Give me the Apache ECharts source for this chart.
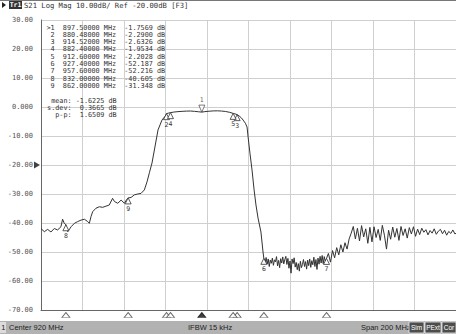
<!DOCTYPE html>
<html>
<head>
    <meta charset="utf-8">
    <title>S21 Log Mag</title>
    <script src="https://cdn.jsdelivr.net/npm/echarts/dist/echarts.min.js"></script>
    <style>
        html, body { margin: 0; padding: 0; background: #fff; }
        #main { width: 456px; height: 334px; }
    </style>
</head>
<body>
    <div id="main"></div>
    <script type="text/javascript">
        // trace (MHz, dB)
        var freqMHz = [
            820, 821.6, 823.2, 824.8, 826.4, 828, 829.6, 830.4, 831.2, 832, 832.9, 834.5, 836.1, 837.7,
            839.3, 840.9, 842.5, 843.3, 844.1, 844.9, 846.5, 848.1, 849.7, 851.3, 852.9, 854.5, 855.4,
            857, 858.6, 860.2, 861.2, 862, 863.4, 865, 866.6, 868.2, 869.8, 871.1, 872.3, 873.5, 874.9,
            876.4, 878.3, 879.8, 880.48, 881.5, 882.4, 884, 886, 888, 890, 892, 894, 896, 897.5, 899,
            901, 903, 905, 907, 909, 911, 912.6, 913.6, 914.52, 915.5, 916.5, 917.4, 918.5, 919.3, 919.8,
            920.7, 921.7, 922.7, 923.6, 924.6, 926, 927, 927.4,
            928, 928.5, 929, 929.5, 930, 930.5, 931, 931.5, 932, 932.5, 933, 933.5, 934, 934.5, 935, 935.5,
            936, 936.5, 937, 937.5, 938, 938.5, 939, 939.5, 940, 940.5, 941, 941.5, 942, 942.5, 943, 943.5,
            944, 944.5, 945, 945.5, 946, 946.5, 947, 947.5, 948, 948.5, 949, 949.5, 950, 950.5, 951, 951.5,
            952, 952.5, 953, 953.5, 954, 954.5, 955, 955.5, 956, 956.5, 957, 957.6,
            958.5, 959.5, 960.5, 961.5, 962.5, 963.5, 964.5, 965.5, 966.5, 967.5, 968.5, 969.5,
            970.5, 971.5, 972.5, 973.5, 974.5, 975.5, 976.5, 977.5, 978.5, 979.5, 980.5, 981.5, 982.5,
            983.5, 984.5, 985.5, 986.5, 987.5, 988.5, 989.5, 990.5, 991.5, 992.5, 993.5, 994.5, 995.5,
            996.5, 997.5, 998.5, 999.5, 1000.5, 1001.5, 1002.5, 1003.5, 1004.5, 1005.5, 1006.5, 1007.5,
            1008.5, 1009.5, 1010.5, 1011.5, 1012.5, 1013.5, 1014.5, 1015.5, 1016.5, 1017.5, 1018.5,
            1019.5, 1020
        ];
        var magDb = [
            -41.9, -43.0, -42.2, -43.1, -41.9, -42.4, -41.3, -38.7, -40.1, -40.6, -43.0, -41.3, -40.1, -39.5,
            -39.0, -38.7, -39.5, -40.1, -37.8, -36.1, -34.9, -34.4, -34.6, -34.2, -33.8, -31.5, -32.6,
            -33.2, -32.1, -33.2, -32.0, -31.35, -31.2, -30.3, -30.0, -29.8, -28.6, -25.8, -22.5, -19.3, -13.8,
            -7.9, -4.5, -3.2, -2.29, -2.1, -1.95, -1.75, -1.6, -1.5, -1.42, -1.38, -1.5, -1.65, -1.757, -1.6,
            -1.45, -1.35, -1.32, -1.4, -1.55, -1.85, -2.2, -2.4, -2.63, -3.1, -3.7, -4.5, -5.6, -6.9, -10.3,
            -15.9, -21.7, -28.6, -33.8, -38.3, -43.1, -50.0, -52.19,
            -53.5, -51.9, -54.2, -52.4, -55.0, -52.8, -53.9, -52.1, -54.6, -52.7, -53.4, -51.6, -54.8, -52.9, -55.4, -52.3,
            -53.8, -51.7, -54.1, -52.6, -51.5, -54.3, -52.2, -55.6, -53.1, -57.3, -52.4, -54.0, -52.0, -55.2, -53.6, -56.1,
            -54.0, -56.6, -53.2, -55.4, -54.3, -52.6, -55.0, -53.3, -55.9, -52.8, -54.7, -52.4, -55.3, -53.0, -54.4, -51.8,
            -55.0, -52.6, -56.0, -52.1, -54.2, -51.5, -53.8, -51.2, -54.0, -51.6, -53.2, -52.22,
            -50.5, -53.5, -49.5, -52.0, -48.5, -51.0, -47.5, -50.0, -46.8, -49.0, -45.5, -43.5,
            -41.2, -45.5, -41.8, -46.2, -40.9, -44.8, -42.0, -47.0, -41.5, -46.5, -41.3, -45.0, -42.2,
            -46.0, -40.8, -44.2, -49.0, -42.5, -45.6, -41.4, -44.9, -41.9, -46.0, -41.2, -44.3, -42.0,
            -45.2, -41.6, -43.8, -41.3, -44.6, -42.1, -44.0, -41.8, -43.2, -42.3, -44.1, -42.6,
            -43.5, -42.0, -43.9, -42.8, -42.2, -43.7, -42.5, -44.2, -42.9, -43.6, -42.4,
            -43.8, -43.5
        ];

        var markerIds = [1, 2, 3, 4, 5, 6, 7, 8, 9];
        var markerFreqs = [897.5, 880.48, 914.52, 882.4, 912.6, 927.4, 957.6, 832.0, 862.0];
        var markerVals = [-1.7569, -2.2900, -2.6326, -1.9534, -2.2028, -52.187, -52.216, -40.605, -31.348];
        var activeMarker = 1;

        var statNames = ['mean', 's.dev', 'p-p'];
        var statVals = ['-1.6225', '0.3665', '1.6509'];

        var yTicks = [30, 20, 10, 0, -10, -20, -30, -40, -50, -60, -70];
        var refLevel = -20;
        var headerText = 'S21 Log Mag 10.00dB/ Ref -20.00dB [F3]';
        var statusLeft = 'Center 920 MHz';
        var statusMid = 'IFBW 15 kHz';
        var statusRight = 'Span 200 MHz';
        var statusBoxes = ['Sim', 'PExt', 'Cor'];

        var mono = '"DejaVu Sans Mono", "Liberation Mono", monospace';
        var sans = '"Liberation Sans", Arial, sans-serif';

        var trace = freqMHz.map(function (f, i) { return [f, magDb[i]]; });

        var inactive = [], active = [], bottomOpen = [], bottomFilled = [];
        markerIds.forEach(function (id, i) {
            var p = { value: [markerFreqs[i], markerVals[i]], name: String(id) };
            if (id === activeMarker) {
                active.push(p);
                bottomFilled.push([markerFreqs[i], yTicks[yTicks.length - 1]]);
            } else {
                inactive.push(p);
                bottomOpen.push([markerFreqs[i], yTicks[yTicks.length - 1]]);
            }
        });

        var graphics = [];
        // header
        graphics.push({ type: 'rect', shape: { x: 0, y: 0, width: 456, height: 1 }, style: { fill: '#777' } });
        graphics.push({ type: 'polygon', shape: { points: [[2, 2], [6, 5], [2, 8]] }, style: { fill: '#222' } });
        graphics.push({ type: 'rect', shape: { x: 9, y: 1, width: 13, height: 8 }, style: { fill: '#333' } });
        graphics.push({ type: 'text', style: { text: 'Tr1', x: 15.5, y: 5.2, fill: '#fff', fontSize: 6.5, fontFamily: mono, fontWeight: 'bold', align: 'center', verticalAlign: 'middle' } });
        graphics.push({ type: 'text', style: { text: headerText, x: 24, y: 5.2, fill: '#333', fontSize: 7.2, fontFamily: mono, verticalAlign: 'middle' } });

        // marker table
        markerIds.forEach(function (id, i) {
            var row = (id === activeMarker ? '>' : ' ') + id + '  ' + markerFreqs[i].toFixed(5) + ' MHz  ' +
                markerVals[i].toPrecision(5) + ' dB';
            graphics.push({ type: 'text', z: 100, style: { text: row, x: 46.5, y: 27.5 + i * 7.3, fill: '#333', fontSize: 6.8, fontFamily: mono, verticalAlign: 'middle' } });
        });
        statNames.forEach(function (n, i) {
            var label = ('      ' + n + ':').slice(-7);
            var val = (statVals[i].charAt(0) === '-' ? ' ' : '  ') + statVals[i] + ' dB';
            graphics.push({ type: 'text', z: 100, style: { text: label + val, x: 43, y: 101 + i * 7.2, fill: '#333', fontSize: 6.8, fontFamily: mono, verticalAlign: 'middle' } });
        });

        // status bar
        graphics.push({ type: 'rect', shape: { x: 0, y: 321, width: 456, height: 13 }, style: { fill: '#b2b2b2' } });
        graphics.push({ type: 'rect', shape: { x: 0, y: 322, width: 6, height: 11 }, style: { fill: '#dcdcdc' } });
        graphics.push({ type: 'text', style: { text: '1', x: 1.2, y: 327.8, fill: '#222', fontSize: 7.5, fontFamily: sans, verticalAlign: 'middle' } });
        graphics.push({ type: 'text', style: { text: statusLeft, x: 9, y: 327.8, fill: '#222', fontSize: 7.5, fontFamily: sans, verticalAlign: 'middle' } });
        graphics.push({ type: 'text', style: { text: statusMid, x: 188, y: 327.8, fill: '#222', fontSize: 7.5, fontFamily: sans, verticalAlign: 'middle' } });
        graphics.push({ type: 'text', style: { text: statusRight, x: 361, y: 327.8, fill: '#222', fontSize: 7.5, fontFamily: sans, verticalAlign: 'middle' } });
        var bx = [409, 425, 442], bw = [15, 16, 14];
        statusBoxes.forEach(function (t, i) {
            graphics.push({ type: 'rect', shape: { x: bx[i], y: 322, width: bw[i], height: 11 }, style: { fill: '#4d4d4d', stroke: '#eee', lineWidth: 0.8 } });
            graphics.push({ type: 'text', style: { text: t, x: bx[i] + bw[i] / 2, y: 327.8, fill: '#fff', fontSize: 6.5, fontFamily: sans, align: 'center', verticalAlign: 'middle' } });
        });

        var chart = echarts.init(document.getElementById('main'), null, { renderer: 'svg' });

        var option = {
            backgroundColor: '#fff',
            animation: false,
            grid: { left: 41, top: 20, width: 415, height: 290, containLabel: false },
            xAxis: {
                type: 'value', min: 820, max: 1020, interval: 20,
                axisLine: { show: true, onZero: false, lineStyle: { color: '#666', width: 1 } },
                axisTick: { show: false },
                axisLabel: { show: false },
                splitLine: { show: true, lineStyle: { color: '#cfcfcf', width: 1 } }
            },
            yAxis: {
                type: 'value', min: yTicks[yTicks.length - 1], max: yTicks[0], interval: 10,
                axisLine: { show: true, onZero: false, lineStyle: { color: '#666', width: 1 } },
                axisTick: { show: false },
                axisLabel: {
                    margin: 8, color: '#555', fontSize: 7, fontFamily: mono,
                    formatter: function (v) { return v === 0 ? '0.000' : v.toFixed(2); }
                },
                splitLine: { show: true, lineStyle: { color: '#cfcfcf', width: 1 } }
            },
            series: [
                {
                    type: 'line', data: trace, showSymbol: false, symbol: 'none',
                    lineStyle: { color: '#333', width: 1 }, z: 3
                },
                {
                    type: 'scatter', data: inactive, symbol: 'triangle', symbolSize: [6, 6], symbolOffset: [0, 3],
                    itemStyle: { color: '#fff', borderColor: '#333', borderWidth: 0.8, opacity: 1 },
                    label: { show: true, position: 'bottom', distance: 1, formatter: '{b}', color: '#333', fontSize: 6.5, fontFamily: mono },
                    z: 4
                },
                {
                    type: 'scatter', data: active, symbol: 'triangle', symbolRotate: 180, symbolSize: [6, 7], symbolOffset: [0, -3.5],
                    itemStyle: { color: '#fff', borderColor: '#333', borderWidth: 0.8 },
                    label: { show: true, position: 'top', distance: 1, formatter: '{b}', color: '#333', fontSize: 6.5, fontFamily: mono },
                    z: 4
                },
                {
                    type: 'scatter', data: bottomOpen, symbol: 'triangle', symbolSize: [8, 5], symbolOffset: [0, 5],
                    clip: false, itemStyle: { color: '#fff', borderColor: '#444', borderWidth: 0.8 }, z: 5
                },
                {
                    type: 'scatter', data: bottomFilled, symbol: 'triangle', symbolSize: [8, 5], symbolOffset: [0, 5],
                    clip: false, itemStyle: { color: '#111', borderColor: '#111', borderWidth: 0.8 }, z: 5
                },
                {
                    type: 'scatter', data: [[820, refLevel]], symbol: 'triangle', symbolRotate: -90, symbolSize: [7, 6],
                    symbolOffset: [-4, 0], clip: false, itemStyle: { color: '#111' }, z: 5
                }
            ],
            graphic: graphics
        };

        chart.setOption(option);
    </script>
</body>
</html>
